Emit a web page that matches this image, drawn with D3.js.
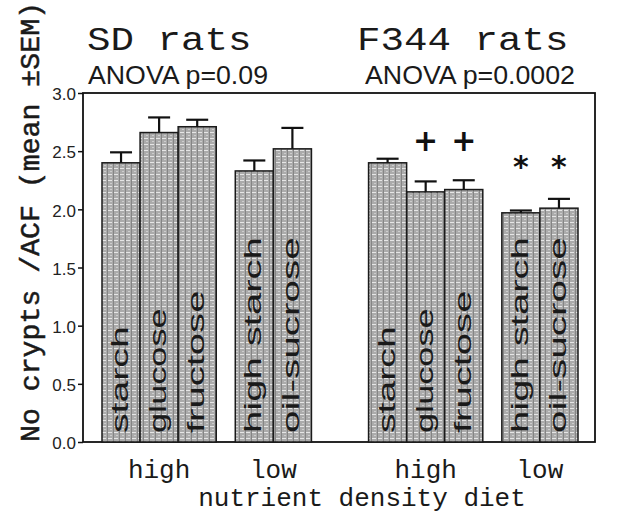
<!DOCTYPE html>
<html>
<head>
<meta charset="utf-8">
<script src="https://cdn.jsdelivr.net/npm/d3@7"></script>
<style>
  html, body { margin: 0; padding: 0; background: #fff; }
  svg { display: block; }
</style>
</head>
<body>
<script>
// ---------- data ----------
const strains = ["SD rats", "F344 rats"];
const anovaLabels = ["ANOVA p=0.09", "ANOVA p=0.0002"];
const densities = ["high", "low"];
const highDiets = ["starch", "glucose", "fructose"];
const lowDiets = ["high starch", "oil-sucrose"];
const sdMeans = [2.40, 2.66, 2.71, 2.33, 2.52];
const sdSEM = [0.09, 0.13, 0.06, 0.09, 0.18];
const f344Means = [2.40, 2.15, 2.17, 1.97, 2.01];
const f344SEM = [0.035, 0.09, 0.08, 0.02, 0.08];
const sdMarks = ["", "", "", "", ""];
const f344Marks = ["", "+", "+", "*", "*"];
const yTicks = [0.0, 0.5, 1.0, 1.5, 2.0, 2.5, 3.0];
const yTitle = "No crypts /ACF (mean \u00B1SEM)";
const xTitle = "nutrient density diet";

// ---------- build rows ----------
const seriesMeans = [sdMeans, f344Means];
const seriesSEM = [sdSEM, f344SEM];
const seriesMarks = [sdMarks, f344Marks];
const rows = [];
strains.forEach((s, si) => {
  const diets = highDiets.map(d => ({diet: d, density: "high"}))
    .concat(lowDiets.map(d => ({diet: d, density: "low"})));
  diets.forEach((d, i) => {
    const slot = si * 7 + (d.density === "high" ? i : 3.5 + (i - highDiets.length));
    rows.push({strain: s, si, diet: d.diet, density: d.density, slot,
      mean: seriesMeans[si][i], sem: seriesSEM[si][i], mark: seriesMarks[si][i]});
  });
});

// ---------- layout ----------
const W = 623, H = 514;
const frame = {left: 83, right: 595, top: 93, bottom: 442};
const x = d3.scaleLinear().domain([0, 12.5]).range([102, 578]);
const barW = x(1) - x(0);
const y = d3.scaleLinear().domain([0, 3]).range([frame.bottom, frame.top]);

const svg = d3.select("body").append("svg").attr("width", W).attr("height", H);

// bar texture
const defs = svg.append("defs");
const pat = defs.append("pattern").attr("id", "tex")
  .attr("patternUnits", "userSpaceOnUse").attr("width", 6).attr("height", 6);
pat.append("rect").attr("width", 6).attr("height", 6).attr("fill", "#ababab");
pat.append("rect").attr("x", 0).attr("y", 0).attr("width", 4).attr("height", 1).attr("fill", "#e6e6e6");
pat.append("rect").attr("x", 5).attr("y", 0).attr("width", 1).attr("height", 6).attr("fill", "#858585");
pat.append("rect").attr("x", 2).attr("y", 3).attr("width", 2).attr("height", 1).attr("fill", "#cdcdcd");

// frame
svg.append("rect")
  .attr("x", frame.left).attr("y", frame.top)
  .attr("width", frame.right - frame.left).attr("height", frame.bottom - frame.top)
  .attr("fill", "none").attr("stroke", "#111").attr("stroke-width", 1.8);

// y axis
const yAxis = svg.append("g").attr("transform", `translate(${frame.left},0)`)
  .call(d3.axisLeft(y).tickValues(yTicks).tickFormat(d3.format(".1f")).tickSize(5).tickPadding(2));
yAxis.select(".domain").remove();
yAxis.selectAll(".tick line").attr("stroke", "#111").attr("stroke-width", 1.5);
yAxis.selectAll(".tick text")
  .attr("font-family", "'Liberation Sans Narrow', 'Liberation Sans', Arial, sans-serif")
  .attr("font-size", 17).attr("fill", "#222").attr("dy", "0.4em");

// bars
svg.append("g").selectAll("rect").data(rows).join("rect")
  .attr("x", d => x(d.slot)).attr("width", barW)
  .attr("y", d => y(d.mean)).attr("height", d => y(0) - y(d.mean))
  .attr("fill", "url(#tex)").attr("stroke", "#1a1a1a").attr("stroke-width", 1.5);

// error bars (upper)
const eb = svg.append("g").attr("stroke", "#111").attr("stroke-width", 2.2);
eb.selectAll("line.stem").data(rows).join("line").attr("class", "stem")
  .attr("x1", d => x(d.slot + 0.5)).attr("x2", d => x(d.slot + 0.5))
  .attr("y1", d => y(d.mean)).attr("y2", d => y(d.mean + d.sem));
eb.selectAll("line.cap").data(rows).join("line").attr("class", "cap")
  .attr("x1", d => x(d.slot + 0.5) - 11).attr("x2", d => x(d.slot + 0.5) + 11)
  .attr("y1", d => y(d.mean + d.sem)).attr("y2", d => y(d.mean + d.sem));

// bar labels (rotated, inside bars)
svg.append("g").selectAll("text").data(rows).join("text")
  .attr("transform", d => `translate(${x(d.slot) + 26},${frame.bottom - 9}) rotate(-90)`)
  .attr("font-family", "'Liberation Sans', Arial, sans-serif")
  .attr("font-size", 24).attr("fill", "#1a1a1a")
  .attr("textLength", d => d.diet.length * 17.8)
  .attr("lengthAdjust", "spacingAndGlyphs")
  .text(d => d.diet);

// significance marks, placed above the highest cap of each sub-group
const groupTop = d3.rollup(rows, v => d3.max(v, d => d.mean + d.sem), d => d.strain + d.density);
svg.append("g").selectAll("text").data(rows.filter(d => d.mark)).join("text")
  .attr("x", d => x(d.slot + 0.5))
  .attr("y", d => y(groupTop.get(d.strain + d.density)) - (d.mark === "+" ? 8 : 22))
  .attr("text-anchor", "middle")
  .attr("font-family", "'DejaVu Sans', sans-serif").attr("font-weight", "bold")
  .attr("font-size", 30).attr("fill", "#111")
  .text(d => d.mark);

// strain titles and ANOVA
const strainX = [87, 357];
const anovaX = [88, 365];
svg.append("g").selectAll("text").data(strains).join("text")
  .attr("x", (d, i) => strainX[i]).attr("y", 50)
  .attr("font-family", "'Liberation Mono', 'Courier New', monospace")
  .attr("font-size", 34).attr("fill", "#1a1a1a")
  .attr("textLength", d => d.length * 23.5)
  .attr("lengthAdjust", "spacingAndGlyphs")
  .text(d => d);
svg.append("g").selectAll("text").data(anovaLabels).join("text")
  .attr("x", (d, i) => anovaX[i]).attr("y", 84)
  .attr("font-family", "'Liberation Sans Narrow', 'Liberation Sans', Arial, sans-serif")
  .attr("font-size", 26).attr("fill", "#1a1a1a")
  .attr("textLength", d => d.length * 15)
  .attr("lengthAdjust", "spacingAndGlyphs")
  .text(d => d);

// density group labels
const groupLabels = [];
strains.forEach((s, si) => {
  densities.forEach(dn => {
    const g = rows.filter(r => r.strain === s && r.density === dn);
    groupLabels.push({label: dn, cx: (x(d3.min(g, r => r.slot)) + x(d3.max(g, r => r.slot) + 1)) / 2});
  });
});
svg.append("g").selectAll("text").data(groupLabels).join("text")
  .attr("x", d => d.cx).attr("y", 478)
  .attr("text-anchor", "middle")
  .attr("font-family", "'Liberation Mono', 'Courier New', monospace")
  .attr("font-size", 26).attr("fill", "#1a1a1a")
  .text(d => d.label);

// x title
svg.append("text").attr("x", 362).attr("y", 506).attr("text-anchor", "middle")
  .attr("font-family", "'Liberation Mono', 'Courier New', monospace")
  .attr("font-size", 26).attr("fill", "#1a1a1a")
  .text(xTitle);

// y title
svg.append("text")
  .attr("transform", `translate(39,222) rotate(-90)`)
  .attr("text-anchor", "middle")
  .attr("font-family", "'Liberation Mono', 'Courier New', monospace")
  .attr("font-size", 27).attr("fill", "#1a1a1a")
  .attr("stroke", "#1a1a1a").attr("stroke-width", 0.5)
  .attr("textLength", 440).attr("lengthAdjust", "spacingAndGlyphs")
  .text(yTitle);
</script>
</body>
</html>
